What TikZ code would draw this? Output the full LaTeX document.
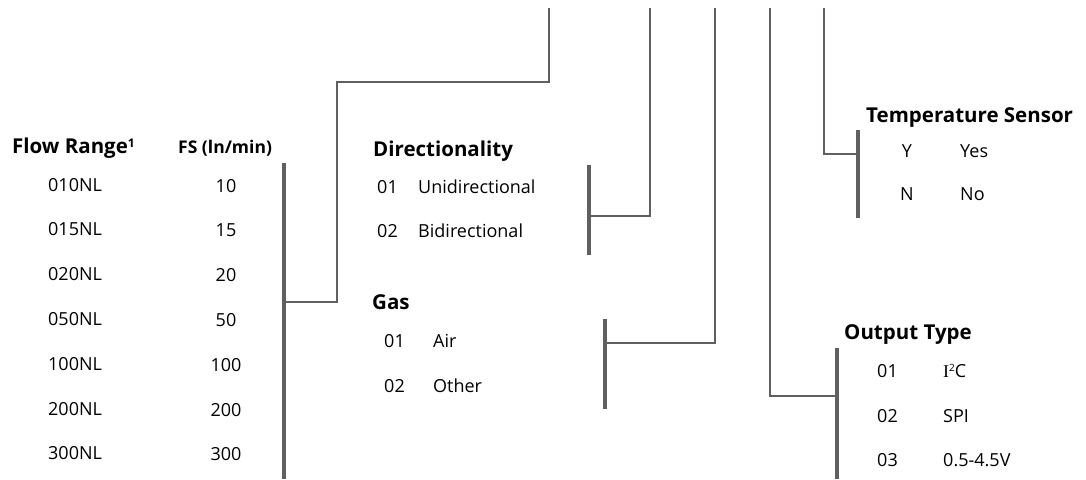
\documentclass[tikz,border=0pt]{standalone}
\usepackage{fontspec}
\setmainfont{Open Sans}
\newfontfamily\serifI{Liberation Serif}
\usepackage{tikz}
\usetikzlibrary{positioning,calc}
\definecolor{linie}{RGB}{96,96,96}

\begin{document}
\begin{tikzpicture}[x=1pt,y=-1pt,
  kopf/.style={anchor=base west,inner sep=0pt,font=\bfseries\fontsize{20.5}{22}\selectfont},
  klein/.style={anchor=base west,inner sep=0pt,font=\bfseries\fontsize{17.5}{20}\selectfont},
  eintrag/.style={anchor=base west,inner sep=0pt,font=\fontsize{18}{20}\selectfont},
  zahl/.style={anchor=base,inner sep=0pt,font=\fontsize{18}{20}\selectfont},
  balken/.style={draw=linie,line width=4pt},
  leitung/.style={draw=linie,line width=2.7pt}]
\useasboundingbox (0,0) rectangle (1086,479);
%Abstand der Zeilen in der Tabelle links
  \pgfmathsetmacro{\dz}{44.8}
%Flow Range und FS
\node[kopf] (flowKopf) at (12,153) {Flow Range\raisebox{6pt}{\fontsize{12}{12}\selectfont 1}};
\node[klein] (fsKopf) at (178,153) {FS (ln/min)};
\foreach \code/\fs [count=\i] in {010NL/10,015NL/15,020NL/20,050NL/50,100NL/100,200NL/200,300NL/300}{
\node[eintrag] (fr\i) at (48,{191+\dz*(\i-1)}) {\code};
\node[zahl] (fs\i) at (226,{192+\dz*(\i-1)}) {\fs};
}
%Directionality
\node[kopf] (dirKopf) at (373,156) {Directionality};
\foreach \nr/\txt/\y [count=\i] in {01/Unidirectional/193,02/Bidirectional/237}{
\node[eintrag] (dirNr\i) at (377,\y) {\nr};
\node[eintrag] (dirTxt\i) at (418,\y) {\txt};
}
%Gas
\node[kopf] (gasKopf) at (372,309) {Gas};
\foreach \nr/\txt/\y [count=\i] in {01/Air/347,02/Other/392}{
\node[eintrag] (gasNr\i) at (384,\y) {\nr};
\node[eintrag] (gasTxt\i) at (433,\y) {\txt};
}
%Temperature Sensor
\node[kopf] (tempKopf) at (866,122) {Temperature Sensor};
\foreach \nr/\txt/\y [count=\i] in {Y/Yes/157,N/No/200}{
\node[zahl] (tempNr\i) at (907,\y) {\nr};
\node[eintrag] (tempTxt\i) at (960,\y) {\txt};
}
%Output Type
\node[kopf] (outKopf) at (844,339) {Output Type};
\foreach \nr/\txt/\y [count=\i] in {01/{{\serifI I}\raisebox{6pt}{\fontsize{10}{10}\selectfont 2}C}/377,02/SPI/422,03/0.5-4.5V/466}{
\node[eintrag] (outNr\i) at (877,\y) {\nr};
\node[eintrag] (outTxt\i) at (943,\y) {\txt};
}
%Balken: Name/x/oben/unten/Hoehe des Anschlusses
\foreach \n/\x/\o/\u/\m in {fr/284/163/479/302,dir/589/165/255/216,gas/605/319/409/343,out/837/348/479/396,temp/858/130/218/154}{
\coordinate (\n Oben) at (\x,\o);
\coordinate (\n Unten) at (\x,\u);
\coordinate (\n Mitte) at (\x,\m);
\draw[balken] (\n Oben) -- (\n Unten);
}
%Leitungen von oben
\coordinate (top1) at (549,8);
\coordinate (knick1) at (337,82);
\draw[leitung] (top1) |- (knick1) |- (frMitte);
\foreach \n/\x in {dir/650,gas/715,out/770,temp/824}{
\coordinate (top\n) at (\x,8);
\draw[leitung] (top\n) |- (\n Mitte);
}
\end{tikzpicture}
\end{document}
